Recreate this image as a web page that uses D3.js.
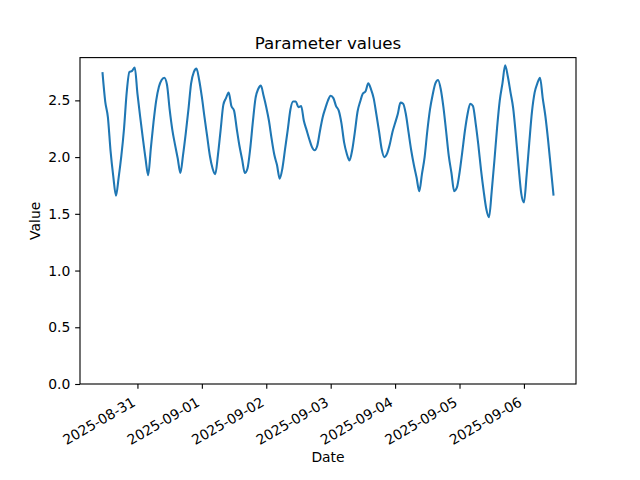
<!DOCTYPE html>
<html><head><meta charset="utf-8">
<script src="https://cdn.jsdelivr.net/npm/d3@7"></script>
<style>body{margin:0;background:#fff;} text{font-family:"DejaVu Sans",sans-serif;fill:#000;}</style>
</head><body>
<svg id="c" width="640" height="480"></svg>
<script>
const startTime = "2025-08-30T11:00:00";
const stepHours = 1;
const values = [
2.74,2.49,2.35,2.05,1.83,1.66,1.82,2.01,2.25,2.57,
2.75,2.76,2.79,2.56,2.36,2.17,1.99,1.84,2.08,2.31,
2.50,2.62,2.68,2.70,2.64,2.42,2.24,2.11,1.99,1.86,
2.02,2.21,2.42,2.65,2.75,2.78,2.68,2.53,2.35,2.18,
2.01,1.90,1.85,2.02,2.24,2.46,2.52,2.57,2.45,2.41,
2.25,2.10,1.98,1.86,1.90,2.07,2.31,2.52,2.60,2.63,
2.54,2.44,2.32,2.16,2.02,1.93,1.81,1.90,2.07,2.24,
2.42,2.49,2.49,2.44,2.45,2.32,2.24,2.16,2.09,2.06,
2.10,2.23,2.35,2.43,2.50,2.54,2.52,2.45,2.41,2.30,
2.13,2.03,1.97,2.06,2.22,2.40,2.49,2.56,2.58,2.65,
2.60,2.52,2.38,2.23,2.07,2.00,2.03,2.11,2.22,2.30,
2.38,2.48,2.47,2.38,2.22,2.06,1.93,1.82,1.70,1.85,
2.00,2.23,2.42,2.55,2.65,2.68,2.60,2.44,2.23,2.01,
1.86,1.70,1.73,1.86,2.04,2.23,2.38,2.47,2.45,2.30,
2.11,1.89,1.70,1.54,1.47,1.70,1.97,2.26,2.50,2.65,
2.81,2.71,2.57,2.43,2.19,1.92,1.68,1.60,1.84,2.13,
2.40,2.57,2.65,2.70,2.52,2.36,2.15,1.91,1.67
];
const yTicks = [0.0, 0.5, 1.0, 1.5, 2.0, 2.5];
const xTickDates = ["2025-08-31","2025-09-01","2025-09-02","2025-09-03","2025-09-04","2025-09-05","2025-09-06"];
const titleText = "Parameter values";
const xLabel = "Date";
const yLabel = "Value";

const t0 = new Date(startTime);
const data = values.map((v,i)=>({t:new Date(t0.getTime()+i*stepHours*3600000), v}));

const L=80, R=576, T=57.6, B=384;
const svg = d3.select("#c");
const ext = d3.extent(data, d=>d.t);
const span = ext[1]-ext[0];
const x = d3.scaleTime().domain([new Date(+ext[0]-0.05*span), new Date(+ext[1]+0.05*span)]).range([L,R]);
const vmin = d3.min(values), vmax = d3.max(values);
const y = d3.scaleLinear().domain([0, vmax+0.05*(vmax-vmin)]).range([B,T]);

svg.append("path").datum(data)
  .attr("d", d3.line().x(d=>x(d.t)).y(d=>y(d.v)).curve(d3.curveMonotoneX))
  .attr("fill","none").attr("stroke","#1f77b4").attr("stroke-width",2.08)
  .attr("stroke-linejoin","round").attr("stroke-linecap","square");

svg.append("rect").attr("x",L).attr("y",T).attr("width",R-L).attr("height",B-T)
  .attr("fill","none").attr("stroke","#000").attr("stroke-width",1.11);

const yAxis = d3.axisLeft(y).tickValues(yTicks).tickFormat(d3.format(".1f")).tickSize(4.86).tickPadding(4.86);
const gy = svg.append("g").attr("transform",`translate(${L},0)`).call(yAxis);
gy.select(".domain").remove();
gy.selectAll(".tick line").attr("stroke","#000").attr("stroke-width",1.11);
gy.selectAll(".tick text").attr("font-size","13.9px").attr("font-family","DejaVu Sans").attr("fill","#000");

const parse = d3.timeParse("%Y-%m-%d");
const xAxis = d3.axisBottom(x).tickValues(xTickDates.map(parse)).tickFormat(d3.timeFormat("%Y-%m-%d")).tickSize(4.86).tickPadding(4.86);
const gx = svg.append("g").attr("transform",`translate(0,${B})`).call(xAxis);
gx.select(".domain").remove();
gx.selectAll(".tick line").attr("stroke","#000").attr("stroke-width",1.11);
gx.selectAll(".tick text").attr("font-size","13.9px").attr("font-family","DejaVu Sans").attr("fill","#000")
  .attr("text-anchor","end").attr("dy",null).attr("y",null)
  .attr("transform","translate(-1.6,21) rotate(-30)");

svg.append("text").attr("x",(L+R)/2).attr("y",49.3).attr("text-anchor","middle")
  .attr("font-size","16.7px").text(titleText);
svg.append("text").attr("x",(L+R)/2).attr("y",462).attr("text-anchor","middle")
  .attr("font-size","13.9px").text(xLabel);
svg.append("text").attr("transform",`translate(39.5,${(T+B)/2}) rotate(-90)`).attr("text-anchor","middle")
  .attr("font-size","13.9px").text(yLabel);
</script>
</body></html>
